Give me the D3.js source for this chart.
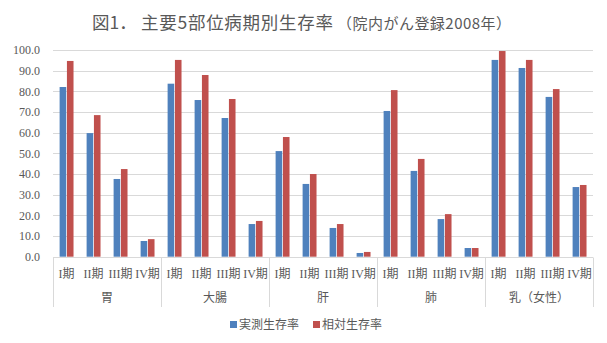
<!DOCTYPE html>
<html>
<head>
<meta charset="utf-8">
<script src="https://cdn.jsdelivr.net/npm/d3@7"></script>
<style>
  html, body { margin: 0; padding: 0; background: #fff; }
  svg { display: block; }
</style>
</head>
<body>
<svg id="chart" width="607" height="343"></svg>
<script>
// Five-year survival by site and stage (hospital cancer registry, 2008)
const sites = ["胃", "大腸", "肝", "肺", "乳（女性）"];
const stages = ["I期", "II期", "III期", "IV期"];
const seriesNames = ["実測生存率", "相対生存率"];
const colors = ["#4f81bd", "#c0504d"];

// values per site, in stage order I..IV
const observed = [
  82.1, 59.8, 37.6, 7.6,   // 胃
  83.7, 75.8, 67.1, 15.8,  // 大腸
  51.1, 35.2, 13.9, 1.8,   // 肝
  70.5, 41.5, 18.2, 4.2,   // 肺
  95.2, 91.3, 77.3, 33.7   // 乳（女性）
];
const relative = [
  94.7, 68.5, 42.4, 8.5,
  95.2, 87.9, 76.3, 17.3,
  57.9, 40.0, 15.8, 2.3,
  80.6, 47.3, 20.6, 4.2,
  99.5, 95.2, 81.1, 34.7
];
const yTicks = [0, 10, 20, 30, 40, 50, 60, 70, 80, 90, 100];

const svg = d3.select("#chart");
const plot = { left: 53, right: 593, top: 50, bottom: 256.7 };
const textColor = "#595959";
const gridColor = "#d9d9d9";
const jp = "'Noto Sans CJK JP', sans-serif";
const serif = "'Liberation Serif', 'Noto Sans CJK JP', serif";

const rows = [];
sites.forEach((s, i) => stages.forEach((st, j) => {
  const k = i * 4 + j;
  rows.push({ key: k, site: s, stage: st, values: [observed[k], relative[k]] });
}));

const x = d3.scaleBand().domain(rows.map(d => d.key)).range([plot.left, plot.right]);
const y = d3.scaleLinear().domain([0, 100]).range([plot.bottom, plot.top]);
const bw = x.bandwidth();
const inner = d3.scaleBand().domain([0, 1]).range([bw * 0.245, bw * 0.76]).paddingInner(0.1);

// title, in three runs
const title = svg.append("g")
  .attr("fill", textColor)
  .style("font-family", jp);
title.append("text").attr("x", 92).attr("y", 29).attr("font-size", 17.5).text("図1．");
title.append("text").attr("x", 141).attr("y", 29).attr("font-size", 17.5)
  .attr("textLength", 192).attr("lengthAdjust", "spacing")
  .text("主要5部位病期別生存率");
title.append("text").attr("x", 337).attr("y", 29).attr("font-size", 15)
  .attr("textLength", 174).attr("lengthAdjust", "spacing")
  .text("（院内がん登録2008年）");

// horizontal gridlines
svg.append("g").selectAll("line")
  .data(yTicks.filter(t => t > 0))
  .join("line")
  .attr("x1", plot.left).attr("x2", plot.right)
  .attr("y1", d => Math.round(y(d)) + 0.5).attr("y2", d => Math.round(y(d)) + 0.5)
  .attr("stroke", gridColor).attr("stroke-width", 1);

// y axis labels
const yAxis = d3.axisLeft(y).tickValues(yTicks).tickFormat(d3.format(".1f")).tickSize(0).tickPadding(0);
const ya = svg.append("g").attr("transform", `translate(40,0)`).call(yAxis);
ya.select(".domain").remove();
ya.selectAll("text")
  .attr("fill", textColor)
  .attr("font-size", 12)
  .style("font-family", serif);

// bars
const groups = svg.append("g").selectAll("g")
  .data(rows)
  .join("g")
  .attr("transform", d => `translate(${x(d.key)},0)`);
groups.selectAll("rect")
  .data(d => d.values.map((v, i) => ({ v, i })))
  .join("rect")
  .attr("x", d => inner(d.i))
  .attr("width", inner.bandwidth())
  .attr("y", d => y(d.v))
  .attr("height", d => y(0) - y(d.v))
  .attr("fill", d => colors[d.i]);

// baseline
const base = Math.round(y(0)) + 0.5;
svg.append("line")
  .attr("x1", plot.left).attr("x2", plot.right)
  .attr("y1", base).attr("y2", base)
  .attr("stroke", gridColor).attr("stroke-width", 1);

// group separators
const bounds = d3.range(sites.length + 1).map(i => i < sites.length ? x(i * 4) : plot.right);
svg.append("g").selectAll("line")
  .data(bounds)
  .join("line")
  .attr("x1", d => Math.round(d) + 0.5).attr("x2", d => Math.round(d) + 0.5)
  .attr("y1", base).attr("y2", 307)
  .attr("stroke", gridColor).attr("stroke-width", 1);

// stage labels
svg.append("g").selectAll("text")
  .data(rows)
  .join("text")
  .attr("x", d => x(d.key) + bw / 2)
  .attr("y", 278)
  .attr("text-anchor", "middle")
  .attr("fill", textColor)
  .attr("font-size", 12)
  .style("font-family", serif)
  .text(d => d.stage);

// site labels
svg.append("g").selectAll("text")
  .data(sites)
  .join("text")
  .attr("x", (d, i) => (bounds[i] + bounds[i + 1]) / 2)
  .attr("y", 302)
  .attr("text-anchor", "middle")
  .attr("fill", textColor)
  .attr("font-size", 12)
  .style("font-family", jp)
  .text(d => d);

// legend
const legendX = [230, 313];
const legend = svg.append("g").selectAll("g")
  .data(seriesNames)
  .join("g")
  .attr("transform", (d, i) => `translate(${legendX[i]},321)`);
legend.append("rect").attr("width", 7).attr("height", 7).attr("fill", (d, i) => colors[i]);
legend.append("text")
  .attr("x", 9).attr("y", 7.5)
  .attr("fill", textColor)
  .attr("font-size", 12)
  .style("font-family", jp)
  .text(d => d);
</script>
</body>
</html>
